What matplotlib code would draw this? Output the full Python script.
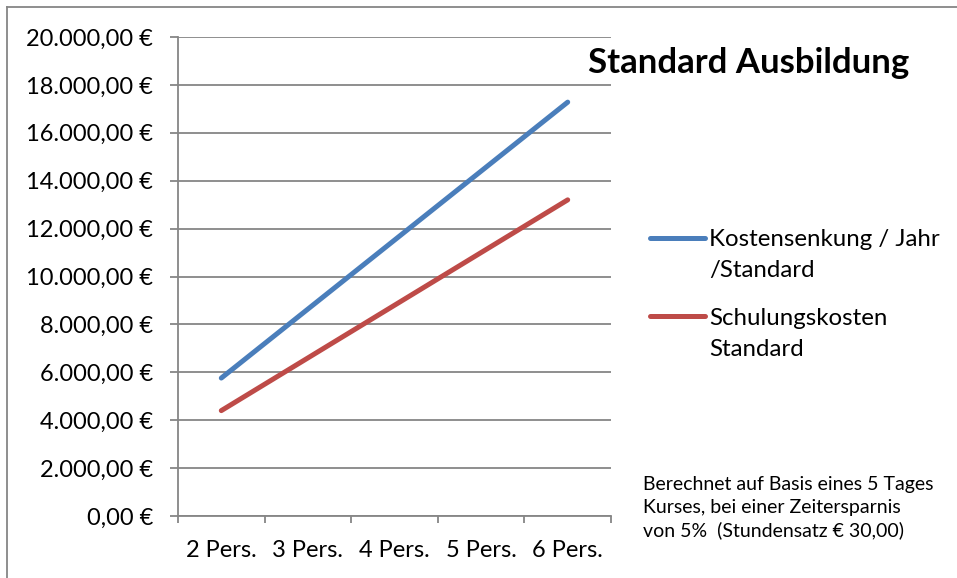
import matplotlib
matplotlib.use("Agg")
import matplotlib.pyplot as plt
from matplotlib.lines import Line2D
from matplotlib.legend_handler import HandlerLine2D
from matplotlib.ticker import FuncFormatter, FixedLocator

categories = ["2 Pers.", "3 Pers.", "4 Pers.", "5 Pers.", "6 Pers."]
kostensenkung = [5760, 8640, 11520, 14400, 17280]
schulungskosten = [4400, 6600, 8800, 11000, 13200]
series_labels = ["Kostensenkung / Jahr\n/Standard", "Schulungskosten\nStandard"]
title = "Standard Ausbildung"
note = "Berechnet auf Basis eines 5 Tages\nKurses, bei einer Zeitersparnis\nvon 5%  (Stundensatz € 30,00)"

plt.rcParams['font.family'] = ['Lato', 'DejaVu Sans']

W, H = 957, 578
fig = plt.figure(figsize=(W / 100, H / 100), dpi=100)
ax = fig.add_axes([178 / W, (H - 516) / H, (611 - 178) / W, (516 - 37) / H])

blue = "#4A7EBB"
red = "#BE4B48"
grid = "#868686"

x = list(range(len(categories)))
ax.plot(x, kostensenkung, color=blue, lw=3.6, solid_capstyle='round', label=series_labels[0])
ax.plot(x, schulungskosten, color=red, lw=3.6, solid_capstyle='round', label=series_labels[1])

ax.set_xlim(-0.5, len(categories) - 0.5)
ax.set_ylim(0, 20000)
ax.set_yticks(range(0, 20001, 2000))

def eur(v, pos):
    s = f"{v:,.2f}".replace(",", "X").replace(".", ",").replace("X", ".")
    return s + " €"

ax.yaxis.set_major_formatter(FuncFormatter(eur))
ax.set_xticks(x)
ax.set_xticklabels(categories)
ax.xaxis.set_minor_locator(FixedLocator([i - 0.5 for i in range(len(categories) + 1)]))

ax.grid(axis='y', color=grid, lw=1.3)
ax.set_axisbelow(True)
for s in ['top', 'right']:
    ax.spines[s].set_visible(False)
for s in ['left', 'bottom']:
    ax.spines[s].set_color(grid)
    ax.spines[s].set_linewidth(1.3)

ax.tick_params(axis='y', direction='out', length=6, width=1.3, color=grid, labelsize=17, pad=12)
ax.tick_params(axis='x', which='major', length=0, labelsize=17, pad=17)
ax.tick_params(axis='x', which='minor', direction='out', length=5, width=1.3, color=grid)

fig.text(588 / W, 1 - 63 / H, title, fontsize=25, fontweight='bold', ha='left', va='center')
fig.text(643 / W, 1 - 476 / H, note, fontsize=14, ha='left', va='top', linespacing=1.4)


class TopHandler(HandlerLine2D):
    def __init__(self, shift, **kw):
        super().__init__(**kw)
        self.shift = shift

    def create_artists(self, legend, orig_handle, xdescent, ydescent, width, height, fontsize, trans):
        arts = super().create_artists(legend, orig_handle, xdescent, ydescent, width, height, fontsize, trans)
        for a in arts:
            a.set_ydata([y + self.shift for y in a.get_ydata()])
            a.set_solid_capstyle('round')
        return arts


LEG_FS = 17.3
h = TopHandler(shift=12.5)
leg = ax.legend(loc='upper left', bbox_to_anchor=(650 / W, 1 - 229 / H),
                bbox_transform=fig.transFigure, frameon=False, fontsize=LEG_FS,
                handlelength=2.3, handletextpad=0.17, labelspacing=1.1,
                borderaxespad=0, borderpad=0,
                handler_map={Line2D: h})
for t in leg.get_texts():
    t.set_linespacing(1.6)

fr = dict(color=grid, lw=1.3, transform=fig.transFigure)
fig.add_artist(Line2D([7.5 / W, 7.5 / W], [0, 1 - 7 / H], **fr))
fig.add_artist(Line2D([7.5 / W, 1], [1 - 7 / H, 1 - 7 / H], **fr))

fig.savefig("out.png", dpi=100)
